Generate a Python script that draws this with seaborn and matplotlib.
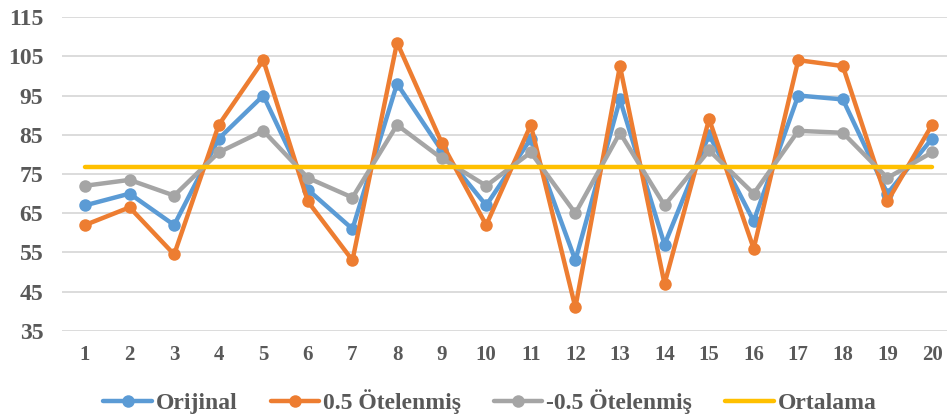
import matplotlib
matplotlib.use("Agg")
import matplotlib.pyplot as plt
import seaborn as sns
import pandas as pd

# Sample index and the three series
idx = list(range(1, 21))
orijinal = [67, 70, 62, 84, 95, 71, 61, 98, 81, 67, 84, 53, 94, 57, 85, 63, 95, 94, 70, 84]
otelenmis_pos = [62, 66.5, 54.5, 87.5, 104, 68, 53, 108.5, 83, 62, 87.5, 41, 102.5, 47, 89, 56, 104, 102.5, 68, 87.5]
otelenmis_neg = [72, 73.5, 69.5, 80.5, 86, 74, 69, 87.5, 79, 72, 80.5, 65, 85.5, 67, 81, 70, 86, 85.5, 74, 80.5]
ortalama = [76.9] * 20

series_names = ["Orijinal", "0.5 Ötelenmiş", "-0.5 Ötelenmiş", "Ortalama"]
y_ticks = [35, 45, 55, 65, 75, 85, 95, 105, 115]

colors = {"Orijinal": "#5B9BD5", "0.5 Ötelenmiş": "#ED7D31",
          "-0.5 Ötelenmiş": "#A5A5A5", "Ortalama": "#FFC000"}

sns.set_style("white")
FONT = ["Liberation Serif", "DejaVu Serif"]
plt.rcParams["font.family"] = FONT

fig = plt.figure(figsize=(9.47, 4.18), dpi=100)
ax = fig.add_axes([62 / 947, 87 / 418, 885 / 947, 314 / 418])

data = {"Orijinal": orijinal, "0.5 Ötelenmiş": otelenmis_pos,
        "-0.5 Ötelenmiş": otelenmis_neg, "Ortalama": ortalama}

for name in series_names:
    df = pd.DataFrame({"x": idx, "y": data[name]})
    marker = None if name == "Ortalama" else "o"
    sns.lineplot(data=df, x="x", y="y", ax=ax, color=colors[name], label=name,
                 linewidth=3.2, marker=marker, markersize=9,
                 markeredgewidth=0, markeredgecolor=colors[name],
                 solid_capstyle="round", zorder=3)

ax.set_xlim(1 - 23 / 44.58, 20 + 15 / 44.58)
ax.set_ylim(35, 115)
ax.set_yticks(y_ticks)
ax.set_yticklabels([str(v) for v in y_ticks], family=FONT, weight="bold",
                   size=17, color="#595959")
ax.set_xticks(idx)
ax.set_xticklabels([str(v) for v in idx], family=FONT, weight="bold",
                   size=15, color="#595959")
ax.set_xlabel("")
ax.set_ylabel("")
ax.grid(axis="y", color="#D9D9D9", linewidth=1.3, zorder=0)
ax.grid(axis="x", visible=False)
for s in ax.spines.values():
    s.set_visible(False)

ax.tick_params(axis="y", length=0, pad=13.5)
ax.tick_params(axis="x", length=0, pad=10)

handles, labels = ax.get_legend_handles_labels()
ax.get_legend().remove()
leg = fig.legend(handles, labels, loc="center", bbox_to_anchor=(490 / 947, 16 / 418),
                 ncol=4, frameon=False, handlelength=2.05, handletextpad=0.17,
                 columnspacing=1.4, borderaxespad=0, borderpad=0,
                 prop={"family": FONT, "size": 17, "weight": "bold"})
for t in leg.get_texts():
    t.set_color("#595959")

fig.savefig("out.png", dpi=100)
